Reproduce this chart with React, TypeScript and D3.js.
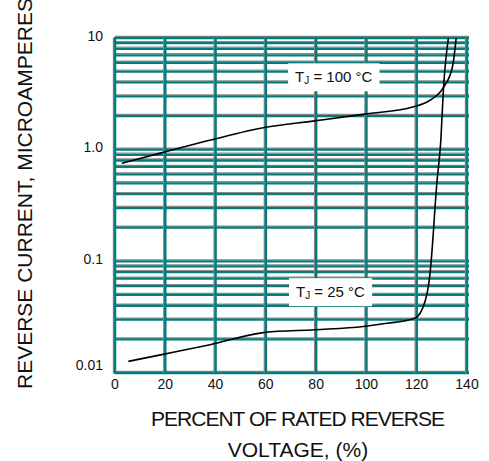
import React, { useEffect, useRef } from "react";
import * as d3 from "d3";

const width = 489;
const height = 461;
const margin = { top: 38, right: 22, bottom: 88, left: 115 };

// axis ticks
const xTicks = [0, 20, 40, 60, 80, 100, 120, 140];
const yTicks = [10, 1, 0.1, 0.01];
const yTickLabels = ["10", "1.0", "0.1", "0.01"];

// TJ = 100 C curve (percent of rated voltage, microamperes)
const hotVoltage = [2.7, 19.1, 38.1, 59.4, 79.3, 98.5, 118.7, 125.3, 130.6, 134.2, 135.7];
const hotCurrent = [0.755, 0.946, 1.22, 1.58, 1.81, 2.07, 2.42, 2.77, 3.6, 5.5, 10];

// TJ = 25 C curve
const coldVoltage = [5.3, 18.6, 37.8, 59.7, 79.6, 98.8, 106.7, 119.3, 123.3, 125.3, 126.6, 127.3, 128.0, 129.6, 130.6, 132.6];
const coldCurrent = [0.0127, 0.0146, 0.0179, 0.0231, 0.0244, 0.0261, 0.0276, 0.031, 0.0437, 0.078, 0.179, 0.31, 0.5, 1.22, 3.41, 10];

// curve labels: temperature text and where the box sits (data units)
const labelTemps = ["100", "25"];
const labelX = [87, 85.7];
const labelY = [4.48, 0.0534];

const teal = "#047c7c";
const grey = "#8a8a8a";
const font = "'Liberation Sans', Arial, sans-serif";

function ReverseCurrentChart() {
  const ref = useRef<SVGSVGElement>(null);

  useEffect(() => {
    const svg = d3.select(ref.current);
    svg.selectAll("*").remove();

    const x = d3.scaleLinear().domain([0, 140]).range([margin.left, width - margin.right]);
    const y = d3.scaleLog().domain([0.01, 10]).range([height - margin.bottom, margin.top]);

    const grid = svg.append("g");
    const x0 = x(0), x1 = x(140), y0 = y(0.01), y1 = y(10);

    // horizontal grid: grey shadow then teal line
    const hLines = y.ticks();
    grid.selectAll(".hs").data(hLines).enter().append("line")
      .attr("x1", x0).attr("x2", x1 + 2)
      .attr("y1", (d) => y(d) - 1.6).attr("y2", (d) => y(d) - 1.6)
      .attr("stroke", grey).attr("stroke-width", 1.2);
    grid.selectAll(".ht").data(hLines).enter().append("line")
      .attr("x1", x0).attr("x2", x1 + 2)
      .attr("y1", (d) => y(d)).attr("y2", (d) => y(d))
      .attr("stroke", teal).attr("stroke-width", 2.3);

    // vertical grid
    grid.selectAll(".vs").data(xTicks).enter().append("line")
      .attr("x1", (d) => x(d) - 1.6).attr("x2", (d) => x(d) - 1.6)
      .attr("y1", y1).attr("y2", y0)
      .attr("stroke", grey).attr("stroke-width", 1.2);
    grid.selectAll(".vt").data(xTicks).enter().append("line")
      .attr("x1", (d) => x(d)).attr("x2", (d) => x(d))
      .attr("y1", y1 - 1).attr("y2", y0 + 1)
      .attr("stroke", teal).attr("stroke-width", 2.5);

    // label boxes
    labelTemps.forEach((t, i) => {
      const g = svg.append("g");
      const text = g.append("text")
        .attr("x", x(labelX[i])).attr("y", y(labelY[i]))
        .attr("dy", "0.36em")
        .attr("text-anchor", "middle")
        .attr("font-family", font).attr("font-size", 15).attr("fill", "#111");
      text.append("tspan").text("T");
      text.append("tspan").attr("font-size", 10).attr("dy", 2).text("J");
      text.append("tspan").attr("dy", -2).text(` = ${t} °C`);
      const bb = (text.node() as SVGTextElement).getBBox();
      g.insert("rect", "text")
        .attr("x", bb.x - 7).attr("y", bb.y - 5)
        .attr("width", bb.width + 14).attr("height", bb.height + 10)
        .attr("fill", "white");
    });

    // curves
    const line = d3.line<[number, number]>()
      .x((d) => x(d[0])).y((d) => y(d[1]))
      .curve(d3.curveMonotoneX);
    const hot = hotVoltage.map((v, i) => [v, hotCurrent[i]] as [number, number]);
    const cold = coldVoltage.map((v, i) => [v, coldCurrent[i]] as [number, number]);
    svg.selectAll(".curve").data([hot, cold]).enter().append("path")
      .attr("d", (d) => line(d))
      .attr("fill", "none").attr("stroke", "#000").attr("stroke-width", 1.6);

    // tick labels
    svg.selectAll(".xl").data(xTicks).enter().append("text")
      .attr("x", (d) => x(d)).attr("y", y0 + 16)
      .attr("text-anchor", "middle")
      .attr("font-family", font).attr("font-size", 14).attr("fill", "#111")
      .text((d) => d);
    svg.selectAll(".yl").data(yTicks).enter().append("text")
      .attr("x", margin.left - 12).attr("y", (d) => y(d))
      .attr("dy", (d) => (d === 0.01 ? "-0.2em" : "0.2em"))
      .attr("text-anchor", "end")
      .attr("font-family", font).attr("font-size", 14).attr("fill", "#111")
      .text((d, i) => yTickLabels[i]);

    // axis titles
    svg.append("text")
      .attr("x", 298).attr("y", 426)
      .attr("text-anchor", "middle")
      .attr("font-family", font).attr("font-size", 21).attr("fill", "#111")
      .attr("textLength", 294).attr("lengthAdjust", "spacing")
      .text("PERCENT OF RATED REVERSE");
    svg.append("text")
      .attr("x", 298).attr("y", 457)
      .attr("text-anchor", "middle")
      .attr("font-family", font).attr("font-size", 21).attr("fill", "#111")
      .text("VOLTAGE, (%)");
    svg.append("text")
      .attr("transform", "translate(32, 389) rotate(-90)")
      .attr("font-family", font).attr("font-size", 21).attr("fill", "#111")
      .text("REVERSE CURRENT, MICROAMPERES");
  }, []);

  return (
    <svg
      ref={ref}
      width={width}
      height={height}
      style={{ position: "absolute", left: 0, top: 0, display: "block", background: "white" }}
    ></svg>
  );
}

export default function App() {
  return <ReverseCurrentChart />;
}
